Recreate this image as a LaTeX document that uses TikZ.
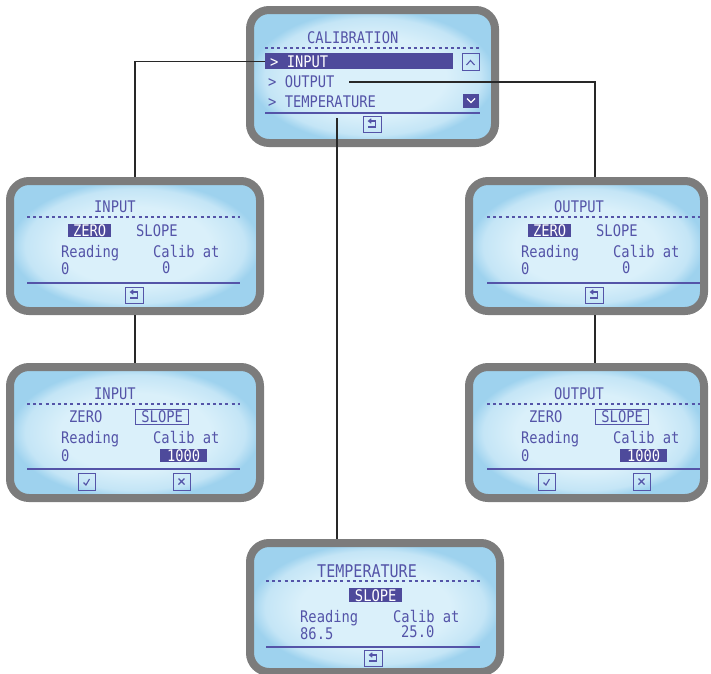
\documentclass[tikz,border=0pt]{standalone}
\usepackage{fontspec}
\newfontfamily\lcdfamily[FakeStretch=0.86]{DejaVu Sans Mono}
\newcommand\lcdf{\lcdfamily\fontsize{16pt}{16pt}\selectfont}
\newcommand\lcdbig{\lcdfamily\fontsize{17.5pt}{17.5pt}\selectfont}
\definecolor{framegray}{RGB}{124,124,124}
\definecolor{lcdc}{RGB}{218,240,250}
\definecolor{lcdm}{RGB}{196,229,246}
\definecolor{lcde}{RGB}{158,210,238}
\definecolor{lcdink}{RGB}{84,84,168}
\definecolor{hlcol}{RGB}{78,74,155}
\definecolor{conncol}{RGB}{40,40,40}
\pgfdeclareradialshading{lcdshade}{\pgfpoint{0bp}{0bp}}{color(0bp)=(lcdc); color(15bp)=(lcdc); color(22bp)=(lcdm); color(25bp)=(lcde); color(50bp)=(lcde)}
\tikzset{
  screen/.style={draw=framegray, line width=8pt, rounded corners=19pt, shading=lcdshade, inner sep=0pt},
  lcdtxt/.style={font=\lcdf, text=lcdink, inner sep=0pt, anchor=base west},
  hlbox/.style={fill=hlcol, text=white, font=\lcdf, inner sep=0pt, anchor=north west},
  olbox/.style={draw=lcdink, line width=1.3pt, text=lcdink, font=\lcdf, inner sep=0pt, anchor=north west},
  dashrule/.style={draw=lcdink, line width=1.6pt, dash pattern=on 3pt off 3.2pt},
  solidrule/.style={draw=lcdink, line width=1.5pt},
  icon/.style={draw=lcdink, line width=1.2pt},
  glyph/.style={draw=lcdink, line width=1.1pt},
  conn/.style={draw=conncol, line width=1.2pt}
}
% back icon: top-left x,y
\newcommand\backicon[3]{%
  \node[icon, minimum width=18pt, minimum height=16pt, anchor=north west, inner sep=0pt] (#1) at (#2,#3) {};
  \draw[glyph] (#2+6,#3+5) -- (#2+12.5,#3+5) -- (#2+12.5,#3+11) -- (#2+5,#3+11);
  \draw[glyph] (#2+8.3,#3+2.8) -- (#2+5.5,#3+5) -- (#2+8.3,#3+7.2);
}
\newcommand\checkicon[3]{%
  \node[icon, minimum width=17pt, minimum height=17pt, anchor=north west, inner sep=0pt] (#1) at (#2,#3) {};
  \draw[glyph] (#2+5.5,#3+9.5) -- (#2+8,#3+12) -- (#2+11.5,#3+6);
}
\newcommand\xicon[3]{%
  \node[icon, minimum width=17pt, minimum height=17pt, anchor=north west, inner sep=0pt] (#1) at (#2,#3) {};
  \draw[glyph] (#2+5.5,#3+5.5) -- (#2+11.5,#3+11.5) (#2+11.5,#3+5.5) -- (#2+5.5,#3+11.5);
}
% screen with ZERO selected, content shifted by dx
\newcommand\zeroscreen[3]{%
  \begin{scope}[xshift=#2pt]
    \node[lcdtxt] (#1title) at (94,212) {#3};
    \draw[dashrule] (27,217) -- (240,217);
    \node[hlbox, minimum width=43pt, minimum height=13pt] (#1zero) at (68,224) {ZERO};
    \node[lcdtxt] (#1slope) at (136,236) {SLOPE};
    \node[lcdtxt] (#1read) at (61,257) {Reading};
    \node[lcdtxt] (#1cal) at (153,257) {Calib at};
    \node[lcdtxt] (#1rv) at (61,274) {0};
    \node[lcdtxt] (#1cv) at (162,273) {0};
    \draw[solidrule] (27,283) -- (240,283);
    \backicon{#1back}{125}{287}
  \end{scope}
}
% screen with SLOPE selected
\newcommand\slopescreen[3]{%
  \begin{scope}[xshift=#2pt]
    \node[lcdtxt] (#1title) at (94,399) {#3};
    \draw[dashrule] (27,404) -- (240,404);
    \node[lcdtxt] (#1zero) at (69,422) {ZERO};
    \node[olbox, minimum width=53pt, minimum height=15pt] (#1slope) at (135,409) {SLOPE};
    \node[lcdtxt] (#1read) at (61,443) {Reading};
    \node[lcdtxt] (#1cal) at (153,443) {Calib at};
    \node[lcdtxt] (#1rv) at (61,461) {0};
    \node[hlbox, minimum width=47pt, minimum height=13pt] (#1cv) at (160,449) {1000};
    \draw[solidrule] (27,469) -- (240,469);
    \checkicon{#1ok}{78}{473}
    \xicon{#1no}{173}{473}
  \end{scope}
}
\begin{document}
\begin{tikzpicture}[x=1pt, y=-1pt]
\useasboundingbox (0,0) rectangle (711,673);

% ---------- screens ----------
\node[screen, minimum width=245pt, minimum height=133pt] (calib) at (372.5,76.5) {};
\node[screen, minimum width=250pt, minimum height=130pt] (in1) at (135,246) {};
\node[screen, minimum width=250pt, minimum height=131pt] (in2) at (135,432.5) {};
\node[screen, minimum width=235pt, minimum height=130pt] (out1) at (586.5,246) {};
\node[screen, minimum width=235pt, minimum height=131pt] (out2) at (586.5,432.5) {};
\node[screen, minimum width=250pt, minimum height=129pt] (temp) at (375,607.5) {};

% ---------- calibration menu ----------
\node[lcdtxt] (ctitle) at (307,43) {CALIBRATION};
\draw[dashrule] (265,48) -- (480,48);
\node[fill=hlcol, minimum width=188pt, minimum height=16pt, anchor=north west, inner sep=0pt] (inbar) at (265,53) {};
\node[lcdtxt, text=white] (tin) at (270,67) {> INPUT};
\node[lcdtxt] (tout) at (268,87) {> OUTPUT};
\node[lcdtxt] (ttemp) at (268,107) {> TEMPERATURE};
\node[icon, minimum width=17pt, minimum height=17pt, anchor=north west, inner sep=0pt] (upbox) at (462,53) {};
\draw[glyph] (466.5,65) -- (470.5,60.5) -- (474.5,65);
\node[fill=hlcol, minimum width=16pt, minimum height=14pt, anchor=north west, inner sep=0pt] (downbox) at (463,94) {};
\draw[draw=white, line width=1.1pt] (467,98.5) -- (471,102.5) -- (475,98.5);
\draw[solidrule] (265,113) -- (480,113);
\backicon{cback}{363}{116}

% ---------- input / output screens ----------
\zeroscreen{ia}{0}{INPUT}
\slopescreen{ib}{0}{INPUT}
\zeroscreen{oa}{460}{OUTPUT}
\slopescreen{ob}{460}{OUTPUT}

% ---------- temperature ----------
\node[lcdtxt, font=\lcdbig] (ttitle) at (317,577) {TEMPERATURE};
\draw[dashrule] (266,581) -- (480,581);
\node[hlbox, minimum width=53pt, minimum height=14pt] (tslope) at (349,588) {SLOPE};
\node[lcdtxt] (tread) at (300,622) {Reading};
\node[lcdtxt] (tcal) at (393,622) {Calib at};
\node[lcdtxt] (trv) at (300,639) {86.5};
\node[lcdtxt] (tcv) at (401,637) {25.0};
\draw[solidrule] (266,647) -- (480,647);
\backicon{tback}{364}{650}

% ---------- connectors ----------
\coordinate (outstart) at (349,82);
\coordinate (outdrop) at ([xshift=8.5pt]out1.north);
\coordinate (outdrop2) at ([xshift=8.5pt]out1.south);
\coordinate (outdrop3) at ([xshift=8.5pt]out2.north);
\coordinate (tstart) at (337,118);
\draw[conn] (inbar.west) -| (in1.north);
\draw[conn] (in1.south) -- (in2.north);
\draw[conn] (outstart) -| (outdrop);
\draw[conn] (outdrop2) -- (outdrop3);
\draw[conn] (tstart) -- (tstart |- temp.north);
\end{tikzpicture}
\end{document}
